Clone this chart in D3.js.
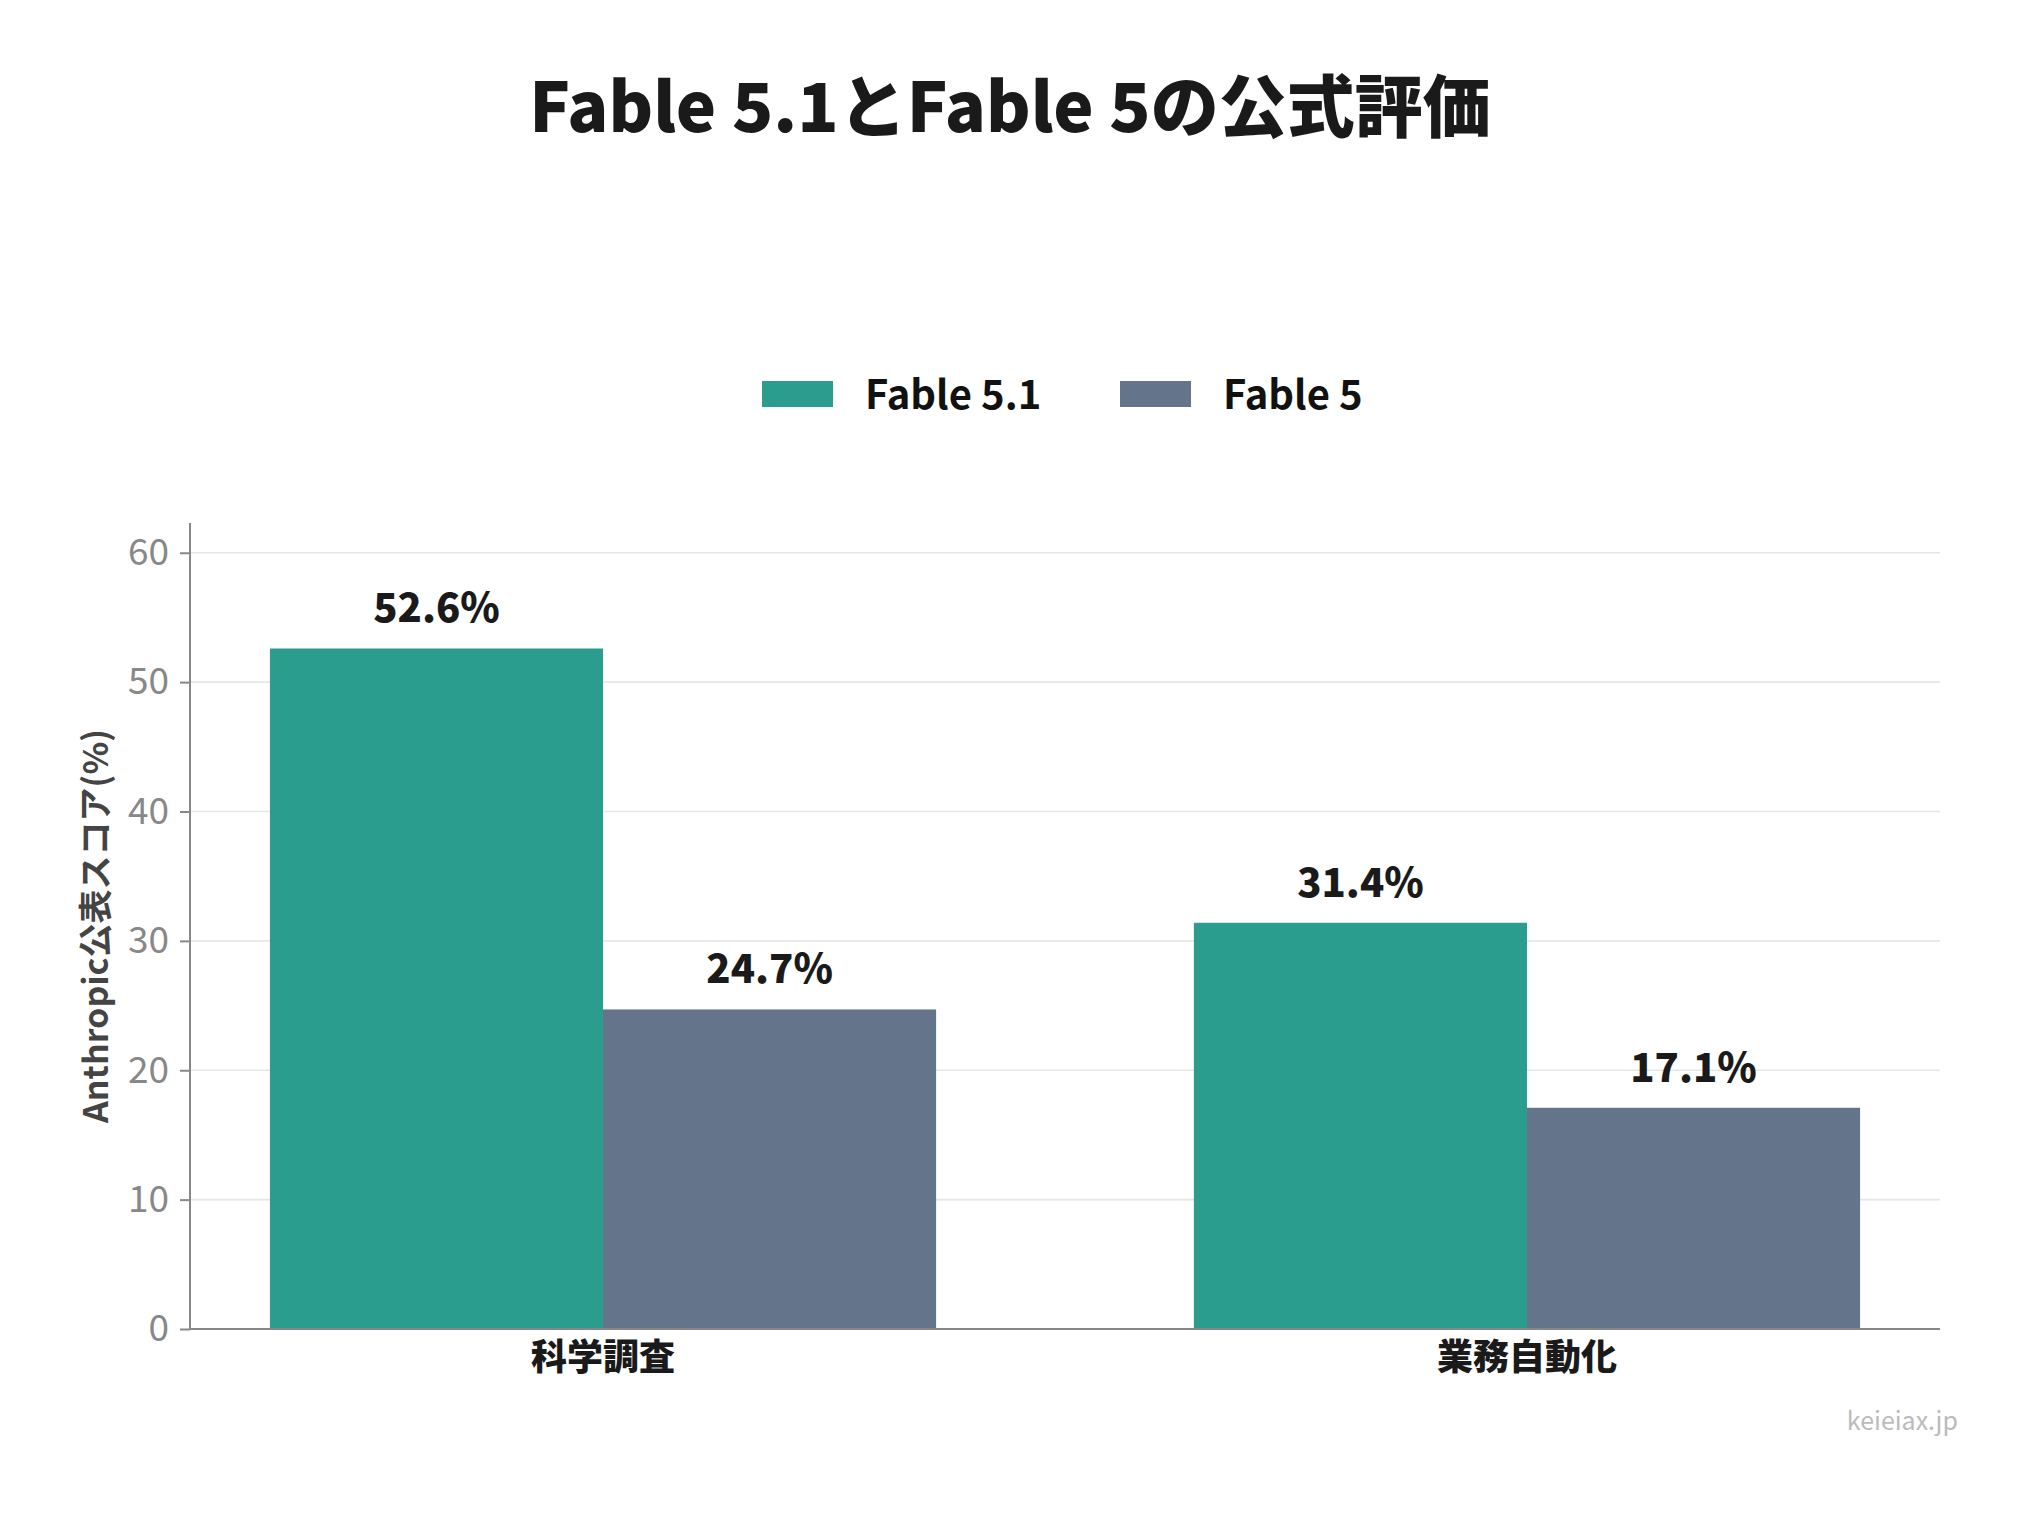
<!DOCTYPE html>
<html>
<head>
<meta charset="utf-8">
<script src="https://cdn.jsdelivr.net/npm/d3@7"></script>
<style>
  html, body { margin: 0; padding: 0; background: #fff; }
  svg { display: block; font-family: "Noto Sans CJK JP", "Noto Sans", sans-serif; }
</style>
</head>
<body>
<div id="chart"></div>
<script>
"use strict"

// Grouped bar chart: Fable 5.1 vs Fable 5

var categories = ["科学調査", "業務自動化"]
var seriesNames = ["Fable 5.1", "Fable 5"]
var fable51 = [52.6, 31.4]
var fable5 = [24.7, 17.1]
var yTicks = [0, 10, 20, 30, 40, 50, 60]

var title = "Fable 5.1とFable 5の公式評価"
var yLabel = "Anthropic公表スコア(%)"
var credit = "keieiax.jp"

var width = 2040
var height = 1516
var margin = { top: 523, right: 100, bottom: 187, left: 190 }
var colors = ["#2a9d8f", "#64748b"]

var rows = categories.map(function(c, i) {
  return { category: c, values: [fable51[i], fable5[i]] }
})

var svg = d3.select("#chart").append("svg")
  .attr("width", width)
  .attr("height", height)
  .attr("viewBox", "0 0 " + width + " " + height)

var x0 = d3.scaleBand()
  .domain(categories)
  .range([margin.left, width - margin.right])
  .paddingInner(0.279)
  .paddingOuter(0.0865)

var x1 = d3.scaleBand()
  .domain(seriesNames)
  .range([0, x0.bandwidth()])

var y = d3.scaleLinear()
  .domain([0, 62.3])
  .range([height - margin.bottom, margin.top])

// gridlines
svg.append("g")
  .selectAll("line")
  .data(yTicks)
  .enter().append("line")
    .attr("x1", margin.left)
    .attr("x2", width - margin.right)
    .attr("y1", function(d) { return y(d) })
    .attr("y2", function(d) { return y(d) })
    .attr("stroke", "#e6e6e6")
    .attr("stroke-width", 1.6)

// bars
var group = svg.append("g")
  .selectAll("g")
  .data(rows)
  .enter().append("g")
    .attr("transform", function(d) { return "translate(" + x0(d.category) + ",0)" })

var cells = group.selectAll("g")
  .data(function(d) {
    return d.values.map(function(v, i) { return { name: seriesNames[i], value: v, index: i } })
  })
  .enter().append("g")

cells.append("rect")
  .attr("x", function(d) { return x1(d.name) })
  .attr("y", function(d) { return y(d.value) })
  .attr("width", x1.bandwidth())
  .attr("height", function(d) { return y(0) - y(d.value) })
  .attr("fill", function(d) { return colors[d.index] })

cells.append("text")
  .attr("x", function(d) { return x1(d.name) + x1.bandwidth() / 2 })
  .attr("y", function(d) { return y(d.value) - 26 })
  .attr("text-anchor", "middle")
  .attr("font-size", 40)
  .attr("font-weight", 900)
  .attr("fill", "#1a1a1a")
  .text(function(d) { return d.value.toFixed(1) + "%" })

// y axis
var yAxis = svg.append("g")
  .attr("transform", "translate(" + margin.left + ",0)")
  .call(d3.axisLeft(y).tickValues(yTicks).tickSize(10).tickPadding(11).tickSizeOuter(0))
yAxis.select(".domain").remove()
yAxis.append("line")
  .attr("y1", margin.top)
  .attr("y2", y(0))
  .attr("stroke", "#888")
  .attr("stroke-width", 2)
yAxis.selectAll(".tick line").attr("stroke", "#888").attr("stroke-width", 2)
yAxis.selectAll(".tick text")
  .attr("fill", "#888")
  .attr("font-size", 37)
  .attr("font-family", "\"Noto Sans CJK JP\", sans-serif")

// x axis
var xAxis = svg.append("g")
  .attr("transform", "translate(0," + y(0) + ")")
  .call(d3.axisBottom(x0).tickSize(0).tickPadding(0))
xAxis.select(".domain").remove()
xAxis.append("line")
  .attr("x1", margin.left)
  .attr("x2", width - margin.right)
  .attr("stroke", "#888")
  .attr("stroke-width", 2)
xAxis.selectAll(".tick text")
  .attr("dy", null)
  .attr("y", 41)
  .attr("fill", "#1a1a1a")
  .attr("font-size", 36)
  .attr("font-weight", 900)
  .attr("font-family", "\"Noto Sans CJK JP\", sans-serif")

// y label
svg.append("text")
  .attr("transform", "translate(108," + (margin.top + y(0)) / 2 + ") rotate(-90)")
  .attr("text-anchor", "middle")
  .attr("font-size", 34)
  .attr("font-weight", 700)
  .attr("fill", "#444")
  .text(yLabel)

// title
svg.append("text")
  .attr("x", 1010)
  .attr("y", 132)
  .attr("text-anchor", "middle")
  .attr("font-size", 68)
  .attr("font-weight", 900)
  .attr("fill", "#1a1a1a")
  .text(title)

// legend
var legendX = [762, 1120]
var legend = svg.append("g")
  .selectAll("g")
  .data(seriesNames)
  .enter().append("g")
    .attr("transform", function(d, i) { return "translate(" + legendX[i] + ",381)" })
legend.append("rect")
  .attr("width", 71)
  .attr("height", 26)
  .attr("fill", function(d, i) { return colors[i] })
legend.append("text")
  .attr("x", 103)
  .attr("y", 28)
  .attr("font-size", 40)
  .attr("font-weight", 700)
  .attr("fill", "#111")
  .text(function(d) { return d })

// credit
svg.append("text")
  .attr("x", 1958)
  .attr("y", 1430)
  .attr("text-anchor", "end")
  .attr("font-size", 25)
  .attr("fill", "#bbb")
  .text(credit)
</script>
</body>
</html>
